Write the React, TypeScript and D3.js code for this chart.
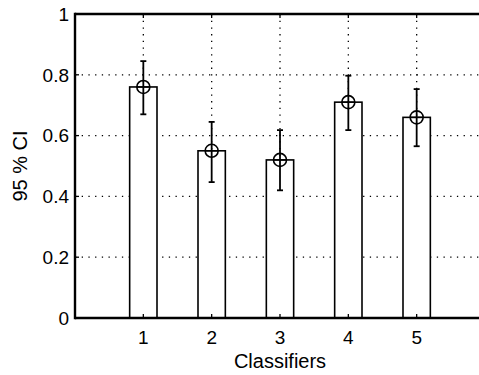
import React from 'react';
import * as d3 from 'd3';

const classifiers = [1, 2, 3, 4, 5];
const means = [0.76, 0.55, 0.52, 0.71, 0.66];
const lower = [0.67, 0.447, 0.42, 0.618, 0.565];
const upper = [0.845, 0.645, 0.618, 0.797, 0.753];
const yTicks = [0, 0.2, 0.4, 0.6, 0.8, 1];

const MARGIN = { top: 14, right: -6, bottom: 57, left: 75 };

const App = () => {
  const width = 479;
  const height = 375;
  const x = d3.scaleLinear().domain([0, 6]).range([MARGIN.left, width - MARGIN.right]);
  const y = d3.scaleLinear().domain([0, 1]).range([height - MARGIN.bottom, MARGIN.top]);
  const barW = (x(1) - x(0)) * 0.4;
  const font = 'Liberation Sans, Arial, Helvetica, sans-serif';
  const x0 = x(0);
  const x1 = x(6);
  const yb = y(0);
  const yt = y(1);

  return (
    <svg width={width} height={height} style={{ position: 'absolute', left: 0, top: 0 }}>
      <rect width={width} height={height} fill="#fff" />
      {/* grid */}
      {yTicks.slice(1, -1).map((t) => (
        <line key={'gy' + t} x1={x0} x2={x1} y1={y(t)} y2={y(t)} stroke="#000" strokeWidth={1.3} strokeDasharray="1.3,5.4" />
      ))}
      {classifiers.map((c) => (
        <line key={'gx' + c} x1={x(c)} x2={x(c)} y1={yt} y2={yb} stroke="#000" strokeWidth={1.3} strokeDasharray="1.3,5.4" />
      ))}
      {/* bars */}
      {classifiers.map((c, i) => (
        <rect key={'b' + c} x={x(c) - barW / 2} y={y(means[i])} width={barW} height={yb - y(means[i])} fill="#fff" stroke="#000" strokeWidth={1.6} />
      ))}
      {/* error bars */}
      {classifiers.map((c, i) => {
        const cx = x(c);
        return (
          <g key={'e' + c} stroke="#000" fill="none">
            <line x1={cx} x2={cx} y1={y(upper[i])} y2={y(lower[i])} strokeWidth={1.8} />
            <line x1={cx - 3} x2={cx + 3} y1={y(upper[i])} y2={y(upper[i])} strokeWidth={1.8} />
            <line x1={cx - 3} x2={cx + 3} y1={y(lower[i])} y2={y(lower[i])} strokeWidth={1.8} />
            <circle cx={cx} cy={y(means[i])} r={6.5} strokeWidth={1.6} />
            <line x1={cx - 6.5} x2={cx + 6.5} y1={y(means[i])} y2={y(means[i])} strokeWidth={1.4} />
          </g>
        );
      })}
      {/* ticks */}
      {yTicks.map((t) => (
        <line key={'ty' + t} x1={x0} x2={x0 + 4} y1={y(t)} y2={y(t)} stroke="#000" strokeWidth={1.3} />
      ))}
      {classifiers.map((c) => (
        <g key={'tx' + c} stroke="#000" strokeWidth={1.3}>
          <line x1={x(c)} x2={x(c)} y1={yb} y2={yb - 4} />
          <line x1={x(c)} x2={x(c)} y1={yt} y2={yt + 4} />
        </g>
      ))}
      {/* axes box */}
      <line x1={x0} x2={x1} y1={yt} y2={yt} stroke="#000" strokeWidth={2.6} />
      <line x1={x0} x2={x1} y1={yb} y2={yb} stroke="#000" strokeWidth={2.4} />
      <line x1={x0} x2={x0} y1={yt - 1.2} y2={yb + 1.2} stroke="#000" strokeWidth={2.4} />
      {/* tick labels */}
      {yTicks.map((t) => (
        <text key={'ly' + t} x={x0 - 6} y={y(t)} dy="0.36em" textAnchor="end" fontFamily={font} fontSize={19}>
          {t === 0 || t === 1 ? String(t) : t.toFixed(1)}
        </text>
      ))}
      {classifiers.map((c) => (
        <text key={'lx' + c} x={x(c)} y={yb + 26} textAnchor="middle" fontFamily={font} fontSize={19}>
          {c}
        </text>
      ))}
      <text x={x(3)} y={yb + 50} textAnchor="middle" fontFamily={font} fontSize={20}>
        Classifiers
      </text>
      <text transform={`translate(27,${(yt + yb) / 2}) rotate(-90)`} textAnchor="middle" fontFamily={font} fontSize={20}>
        95 % CI
      </text>
    </svg>
  );
};

export default App;
